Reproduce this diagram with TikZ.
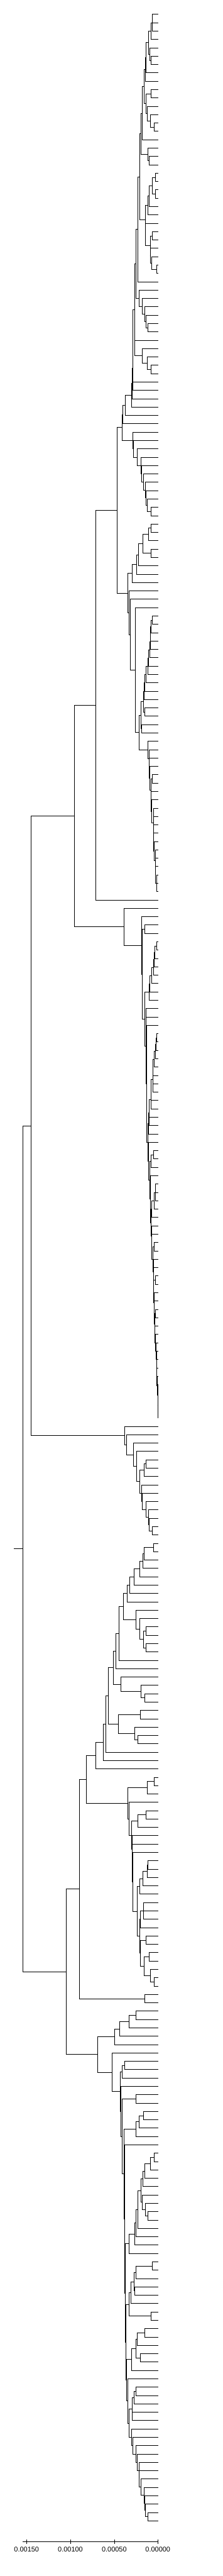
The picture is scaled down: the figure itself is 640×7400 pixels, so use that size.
\documentclass[tikz,border=0pt]{standalone}
\usepackage{fontspec}
\newfontfamily\axisfont{Liberation Sans}
\newcount\dgsp \newcount\dgmk \newcount\dgleaf
\newcount\dgm \newcount\dgi \newcount\dge
\def\dgtipx{453.9}
\def\dgL{%
  \global\advance\dgsp by 1\relax
  \pgfmathsetmacro\dgtmpy{41.1+24*\the\dgleaf}%
  \expandafter\xdef\csname dgx\the\dgsp\endcsname{\dgtipx}%
  \expandafter\xdef\csname dgy\the\dgsp\endcsname{\dgtmpy}%
  \global\advance\dgleaf by 1\relax}
\def\dgO{%
  \global\advance\dgmk by 1\relax
  \expandafter\xdef\csname dgmark\the\dgmk\endcsname{\the\dgsp}}
\def\dgH{%
  \ifnum\dgi<\dge
    \edef\dgcx{\csname dgx\the\dgi\endcsname}%
    \edef\dgcy{\csname dgy\the\dgi\endcsname}%
    \draw[tl] (\dgnx,\dgcy) -- (\dgcx,\dgcy);
    \advance\dgi by 1\relax
    \expandafter\dgH
  \fi}
\def\dgC#1{%
  \pgfmathsetmacro\dgnx{#1/2.45}%
  \dgm=\csname dgmark\the\dgmk\endcsname\relax
  \global\advance\dgmk by -1\relax
  \dgi=\dgm\relax \advance\dgi by 1\relax
  \dge=\dgsp\relax \advance\dge by 1\relax
  \edef\dgfy{\csname dgy\the\dgi\endcsname}%
  \edef\dgly{\csname dgy\the\dgsp\endcsname}%
  \draw[tl] (\dgnx,\dgfy) -- (\dgnx,\dgly);
  \dgH
  \pgfmathsetmacro\dgny{(\dgfy+\dgly)/2}%
  \global\dgsp=\dgm\relax \global\advance\dgsp by 1\relax
  \expandafter\xdef\csname dgx\the\dgsp\endcsname{\dgnx}%
  \expandafter\xdef\csname dgy\the\dgsp\endcsname{\dgny}}
\begin{document}
\begin{tikzpicture}[x=0.5pt,y=-0.5pt,
  tl/.style={line width=0.5pt,line cap=rect,black},
  axlab/.style={font=\axisfont\fontsize{9.9}{12}\selectfont,inner sep=0pt,anchor=center}]
\fill[white] (0,0) rectangle (640,7400);
\useasboundingbox (0,0) rectangle (640,7400);
% ===== upper half =====
\dgO\dgO\dgO\dgO\dgO\dgO\dgO\dgO\dgO\dgO\dgO\dgO\dgO\dgO\dgO\dgO\dgO\dgO\dgO\dgO\dgO\dgO\dgO
\dgO\dgL\dgL\dgL\dgC{1072}
\dgL\dgC{1062}
\dgO\dgL\dgO\dgL\dgL\dgC{1062}\dgC{1053}
\dgC{1045}
\dgL\dgC{1028}
\dgL\dgC{1023}
\dgO\dgO\dgL\dgL\dgC{1062}\dgO\dgL\dgO\dgL\dgO\dgL\dgL\dgC{1084}\dgC{1057}\dgC{1038}\dgC{1030}
\dgC{1015}
\dgL\dgC{1001}
\dgO\dgL\dgO\dgL\dgL\dgC{1052}\dgC{1041}
\dgC{991}
\dgO\dgO\dgO
\dgO\dgO\dgL\dgL\dgC{1095}\dgO\dgL\dgL\dgC{1095}\dgC{1072}
\dgL\dgC{1052}
\dgL\dgC{1043}
\dgO\dgL
\dgO
\dgO\dgL\dgL\dgC{1072}
\dgO\dgL\dgO\dgL\dgO\dgL\dgL\dgC{1103}\dgC{1067}\dgC{1059}
\dgC{1057}
\dgC{1025}
\dgC{1023}
\dgC{984}
\dgL\dgC{969}
\dgO\dgL\dgO\dgL\dgO\dgL\dgO\dgL\dgO\dgL\dgL\dgC{1042}\dgC{1030}\dgC{1020}\dgC{1003}\dgC{981}
\dgC{957}
\dgL
\dgO\dgL\dgO\dgL\dgO\dgL\dgL\dgC{1062}\dgC{1035}\dgC{1003}
\dgC{949}
\dgL\dgC{937}
\dgL\dgC{934}
\dgL\dgC{930}
\dgL\dgC{926}
\dgL\dgC{883}
\dgL\dgC{863}
\dgO\dgL\dgO\dgL\dgO\dgL\dgO\dgL\dgO\dgL\dgO\dgL\dgO\dgL\dgO\dgL\dgO\dgL\dgO\dgL\dgL\dgC{1062}\dgC{1038}\dgC{1028}\dgC{1023}\dgC{1010}\dgC{996}\dgC{991}\dgC{964}\dgC{939}\dgC{937}
\dgC{858}
\dgO
\dgO\dgO\dgO\dgO\dgO\dgO\dgL\dgL\dgC{1062}\dgL\dgC{1047}\dgO\dgL\dgL\dgC{1062}\dgC{1005}\dgL\dgC{976}\dgL\dgC{961}\dgL\dgC{932}
\dgO\dgL\dgO\dgL\dgO\dgL
% AA
\dgO\dgO\dgO\dgO\dgO\dgO\dgO\dgO\dgO\dgO\dgO\dgO
\dgO\dgL\dgL\dgC{1072}
\dgL\dgC{1062}
\dgL\dgC{1059}
\dgL\dgC{1057}
\dgL\dgC{1053}
\dgL\dgC{1045}
\dgL\dgC{1042}
\dgL\dgC{1030}
\dgL\dgC{1021}
\dgL\dgC{1015}
\dgO\dgL\dgL\dgC{1020}
\dgC{1009}
\dgO\dgL\dgL\dgC{998}
\dgC{993}
\dgO\dgL\dgO\dgL\dgO\dgL\dgO\dgL\dgO
\dgO\dgL\dgL\dgC{1072}
\dgO\dgL\dgO\dgL\dgO\dgL\dgL\dgO\dgL\dgL\dgO\dgL\dgO\dgL\dgO\dgL\dgL
\dgO\dgL\dgL\dgL\dgC{1103}
\dgC{1096}\dgC{1094}\dgC{1084}\dgC{1081}\dgC{1080}\dgC{1067}\dgC{1065}
\dgC{1062}\dgC{1055}\dgC{1052}\dgC{1050}\dgC{1040}
\dgC{981}
\dgC{954}\dgC{919}\dgC{910}
\dgC{900}
\dgC{824}
\dgL\dgC{672}
% BB
\dgO\dgL
\dgO\dgL
\dgO
\dgO\dgL\dgL\dgC{1020}
\dgO
\dgO\dgO\dgO\dgO\dgO\dgO\dgO\dgL\dgL\dgC{1103}\dgL\dgC{1089}\dgL\dgC{1084}\dgL\dgC{1082}\dgL\dgC{1069}\dgL\dgC{1054}\dgL\dgC{1052}
\dgO\dgL\dgL
\dgO\dgL
\dgO\dgO\dgO\dgO\dgO\dgO
\dgO\dgO\dgO\dgO\dgO\dgL\dgL\dgC{1103}\dgL\dgC{1098}\dgL\dgC{1095}\dgL\dgC{1087}\dgL\dgC{1077}
\dgL\dgL\dgC{1075}
\dgL\dgC{1065}
\dgL\dgC{1062}
\dgL\dgL\dgC{1050}
\dgL\dgC{1045}
\dgO\dgL
\dgO
\dgO\dgO\dgL\dgL\dgC{1082}\dgL\dgC{1062}
\dgO\dgL
\dgO
\dgO\dgO\dgO\dgL\dgL\dgL\dgC{1095}\dgL\dgC{1084}\dgL\dgC{1069}
\dgO\dgL\dgO\dgL\dgO\dgO\dgL\dgL\dgC{1084}
\dgO\dgL\dgO\dgL\dgO\dgL\dgL\dgC{1095}
\dgO\dgL\dgO\dgL\dgO\dgO\dgL\dgL\dgC{1095}
\dgO\dgL\dgO\dgL\dgO\dgL\dgO\dgL\dgO\dgL\dgO\dgL\dgO\dgL\dgO\dgL
\dgO\dgL\dgL\dgL\dgL\dgC{1112}
\dgC{1110}\dgC{1107}\dgC{1105}\dgC{1104}\dgC{1102}\dgC{1101}\dgC{1095}\dgC{1089}
\dgC{1088}\dgC{1086}\dgC{1084}\dgC{1082}\dgC{1081}\dgC{1077}\dgC{1068}\dgC{1066}
\dgC{1064}
\dgC{1059}
\dgC{1055}
\dgC{1047}
\dgC{1043}
\dgC{1032}
\dgC{1030}
\dgC{1018}
\dgC{1003}
\dgC{996}
\dgC{873}
\dgC{525}
% DA
\dgO\dgL\dgO\dgL\dgO\dgL\dgO\dgL
\dgO
\dgO\dgO\dgL\dgL\dgC{1030}\dgL\dgC{1015}
\dgO\dgL
\dgO\dgL
\dgO\dgL\dgO\dgL\dgO\dgL\dgO\dgL\dgL\dgC{1072}\dgC{1052}\dgC{1045}\dgC{1030}
\dgC{1003}
\dgC{997}
\dgC{984}
\dgC{961}\dgC{940}\dgC{893}\dgC{876}
\dgC{217}
% ===== lower half EA =====
\dgO\dgO\dgO\dgO\dgO\dgO\dgO\dgO\dgO\dgO\dgO\dgO\dgO\dgO\dgO\dgO
\dgO\dgO\dgL\dgL\dgC{1082}\dgL\dgC{1015}
\dgL\dgC{1005}
\dgL\dgC{984}
\dgL\dgC{942}
\dgL\dgC{913}
\dgL\dgC{896}
\dgO\dgL\dgO\dgL\dgO\dgO\dgL\dgL\dgC{1030}\dgO\dgL\dgL\dgC{1030}\dgC{1010}\dgC{984}\dgC{959}
\dgC{868}
\dgL\dgC{836}
\dgL\dgC{817}
\dgO\dgL\dgO\dgL\dgO\dgL\dgL\dgC{1020}\dgC{993}\dgC{851}
\dgC{800}
\dgO\dgO\dgL\dgL\dgC{988}\dgO\dgL\dgO\dgL\dgL\dgC{969}\dgC{947}\dgC{834}
\dgC{763}
\dgL\dgC{743}
\dgL\dgC{729}
\dgL\dgC{672}
\dgO
\dgO\dgO\dgL\dgL\dgC{1084}\dgL\dgC{1038}
\dgO\dgL
\dgO
\dgO\dgO\dgL\dgL\dgC{1030}\dgL\dgC{969}
\dgO\dgL\dgO\dgL\dgO\dgL
\dgO
\dgO\dgO\dgO\dgO\dgL\dgL\dgC{1043}\dgL\dgC{1038}\dgL\dgC{1008}\dgL\dgC{986}
\dgO
\dgO\dgO\dgL\dgL\dgL\dgC{1010}\dgL\dgC{988}
\dgO\dgO\dgL\dgL\dgC{1030}\dgO\dgO\dgL\dgL\dgC{1052}\dgO\dgL\dgO\dgL\dgL\dgC{1084}\dgC{1057}\dgC{1013}\dgC{990}
\dgC{984}
\dgC{966}
\dgC{937}\dgC{932}\dgC{930}
\dgC{926}
\dgC{907}
\dgC{900}
\dgC{606}
\dgO\dgL\dgL\dgC{1020}
\dgC{557}
\dgO
\dgO\dgO\dgO\dgO\dgL\dgL\dgC{959}\dgL\dgC{910}\dgL\dgC{844}\dgL\dgC{805}
\dgO\dgL
\dgO
\dgO\dgO\dgL\dgL\dgC{876}\dgL\dgC{861}
\dgO\dgL
\dgO
\dgO\dgL\dgL\dgC{959}
\dgO
\dgO\dgO\dgO\dgL\dgL\dgC{1010}\dgL\dgC{979}\dgL\dgC{959}
\dgO\dgL
\dgO
\dgO\dgO\dgO\dgO\dgO\dgO\dgO
\dgO\dgO\dgL\dgL\dgC{1084}\dgL\dgC{1057}
\dgL\dgC{1018}
\dgL\dgC{1005}
\dgO\dgL\dgO\dgL\dgO\dgL\dgL\dgC{1040}\dgC{1025}\dgC{1001}
\dgC{991}
\dgL\dgC{972}
\dgL\dgC{959}
\dgL\dgC{947}
\dgL\dgC{910}
\dgO
\dgO\dgO\dgO
\dgO\dgO\dgL\dgL\dgC{1072}\dgL\dgC{959}
\dgO\dgL\dgL\dgC{947}
\dgC{942}
\dgL\dgC{920}
\dgO\dgL\dgL\dgC{1062}
\dgC{907}
\dgO\dgO\dgO
\dgO\dgO\dgL\dgL\dgC{1020}\dgL\dgC{964}
\dgO\dgL\dgL\dgC{988}
\dgC{957}
\dgL\dgC{928}
\dgO\dgL
\dgO
\dgO
\dgO\dgO\dgL\dgL\dgC{959}\dgL\dgC{942}
\dgL\dgL\dgC{930}
\dgO\dgL\dgO\dgL\dgO\dgL\dgO\dgL\dgO\dgL\dgO\dgL\dgO\dgL\dgO\dgL\dgO\dgL\dgO\dgL\dgO\dgL\dgL\dgC{1042}\dgC{1025}\dgC{1018}\dgC{1015}\dgC{991}\dgC{981}\dgC{979}\dgC{966}\dgC{957}\dgC{937}\dgC{928}
\dgC{910}
\dgC{898}
\dgC{893}
\dgC{886}
\dgC{881}
\dgC{876}
\dgC{872}
\dgC{859}
\dgC{849}
\dgC{847}
\dgC{788}
\dgC{689}
\dgC{464}
\dgC{160}
% root stub
\edef\dgrx{\csname dgx1\endcsname}\edef\dgry{\csname dgy1\endcsname}
\coordinate (root) at (\dgrx,\dgry);
\coordinate (stub) at (40,\dgry);
\draw[tl] (stub) -- (root);
% axis
\coordinate (axL) at (65.3,7301.6);
\coordinate (axR) at (453.9,7301.6);
\draw[tl] (axL) -- (axR);
\foreach \tx/\lab/\nm in {76.3/0.00150/a,202.4/0.00100/b,328.6/0.00050/c,453.9/0.00000/d}{
  \draw[tl] (\tx,7295.6) -- (\tx,7307);
  \node[axlab] (lab\nm) at (\tx,7324) {\lab};
}
\end{tikzpicture}
\end{document}
